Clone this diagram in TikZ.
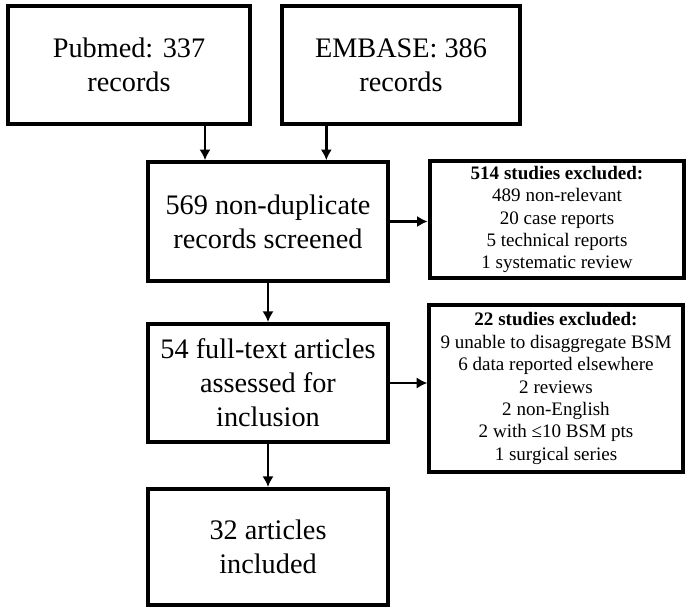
\documentclass[tikz,border=0pt]{standalone}
\usepackage{fontspec}
\setmainfont{Liberation Serif}
\usepackage{tikz}
\usetikzlibrary{positioning,arrows.meta}
\tikzset{>=latex}
\newcommand{\exfont}{\fontsize{14.3}{16.8}\selectfont}
\tikzset{
  mainbox/.style={draw,line width=3pt,inner sep=0pt,minimum width=180pt,minimum height=88.5pt,align=center,font=\fontsize{21.2}{25.5}\selectfont},
  exbox/.style={draw,line width=3pt,inner sep=0pt,minimum width=191pt,align=center,font=\exfont},
  arr/.style={line width=2.2pt,-{Latex[length=8pt,width=8.5pt]}}
}
\begin{document}
\begin{tikzpicture}[x=0.75pt,y=-0.75pt]
		\useasboundingbox (0,0) rectangle (686,607);
		% Sources
		\node[mainbox,minimum width=181pt] (pub) at (129,65) {Pubmed: 337\\records};
		\node[mainbox,minimum width=178pt] (emb) at (401,65) {EMBASE: 386\\records};
		% Screening
		\node[mainbox,minimum height=89pt] (scr) at (268,221.5) {569 non-duplicate\\records screened};
		\node[exbox,minimum height=87.5pt] (exa) at (557,219.5) {\textbf{514 studies excluded:}\\489 non-relevant\\20 case reports\\5 technical reports\\1 systematic review};
		% Full text
		\node[mainbox] (full) at (268,383) {54 full-text articles\\assessed for\\inclusion};
		\node[exbox,minimum width=190pt,minimum height=125pt] (exb) at (556,388.5) {\textbf{22 studies excluded:}\\9 unable to disaggregate BSM\\6 data reported elsewhere\\2 reviews\\2 non-English\\2 with ≤10 BSM pts\\1 surgical series};
		% Included
		\node[mainbox,minimum height=87pt] (inc) at (268,547) {32 articles\\included};
		% Arrows
		\draw[arr] ([xshift=57pt]pub.south) -- ([xshift=57pt]pub.south |- scr.north);
		\draw[arr] ([xshift=-56pt]emb.south) -- ([xshift=-56pt]emb.south |- scr.north);
		\draw[arr] (scr.east) -- (scr.east -| exa.west);
		\draw[arr] (scr) -- (full);
		\draw[arr] (full.east) -- (full.east -| exb.west);
		\draw[arr] (full) -- (inc);
		\end{tikzpicture}
\end{document}
